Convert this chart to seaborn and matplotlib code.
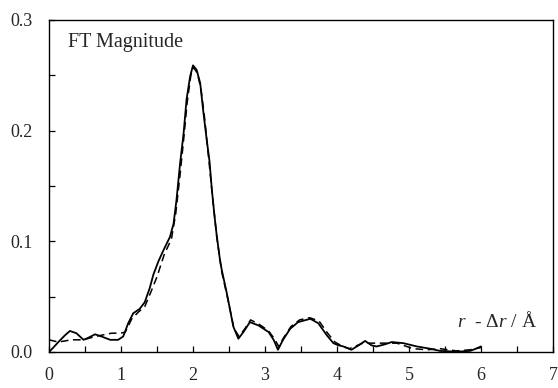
import numpy as np
import pandas as pd
import matplotlib
matplotlib.use("Agg")
import matplotlib.pyplot as plt
import seaborn as sns

# Experimental (solid)
r_exp = [0.00, 0.06, 0.13, 0.22, 0.29, 0.38, 0.48, 0.55, 0.64, 0.73, 0.85, 0.96, 1.03,
         1.10, 1.17, 1.26, 1.33, 1.40, 1.45, 1.52, 1.59, 1.68, 1.73, 1.77, 1.82, 1.87,
         1.91, 1.96, 2.00, 2.05, 2.10, 2.14, 2.19, 2.23, 2.26, 2.30, 2.33, 2.375, 2.40,
         2.47, 2.56, 2.63, 2.70, 2.79, 2.91, 3.05, 3.12, 3.18, 3.25, 3.35, 3.46, 3.63,
         3.74, 3.86, 3.95, 4.02, 4.09, 4.20, 4.30, 4.39, 4.48, 4.55, 4.67, 4.76, 4.92,
         5.11, 5.29, 5.43, 5.66, 5.85, 5.93, 6.00]
m_exp = [0.000, 0.004, 0.009, 0.015, 0.019, 0.017, 0.011, 0.013, 0.016, 0.014, 0.011, 0.011, 0.014,
         0.026, 0.035, 0.039, 0.045, 0.058, 0.070, 0.082, 0.092, 0.104, 0.116, 0.137, 0.170, 0.198,
         0.228, 0.249, 0.259, 0.255, 0.243, 0.219, 0.192, 0.172, 0.148, 0.122, 0.105, 0.083, 0.074,
         0.053, 0.023, 0.012, 0.018, 0.027, 0.024, 0.018, 0.011, 0.002, 0.011, 0.021, 0.027, 0.030,
         0.026, 0.015, 0.008, 0.006, 0.005, 0.002, 0.006, 0.010, 0.006, 0.005, 0.007, 0.009, 0.008,
         0.005, 0.003, 0.001, 0.0003, 0.001, 0.003, 0.005]

# Fit (dashed)
r_fit = [0.00, 0.13, 0.31, 0.48, 0.64, 0.87, 0.99, 1.06, 1.15, 1.24, 1.33, 1.42, 1.50, 1.60,
         1.70, 1.76, 1.82, 1.87, 1.92, 1.97, 2.01, 2.06, 2.11, 2.16, 2.21, 2.27, 2.33, 2.40,
         2.48, 2.57, 2.64, 2.72, 2.80, 2.92, 3.05, 3.13, 3.19, 3.26, 3.36, 3.48, 3.62, 3.75,
         3.87, 3.97, 4.08, 4.17, 4.36, 4.60, 4.83, 5.06, 5.25, 5.43, 5.66, 5.85, 6.00]
m_fit = [0.011, 0.009, 0.011, 0.011, 0.014, 0.017, 0.017, 0.018, 0.030, 0.036, 0.041, 0.055, 0.068, 0.088,
         0.102, 0.125, 0.160, 0.192, 0.226, 0.250, 0.257, 0.252, 0.238, 0.212, 0.180, 0.141, 0.104, 0.072,
         0.049, 0.021, 0.014, 0.021, 0.029, 0.025, 0.019, 0.012, 0.005, 0.013, 0.023, 0.029, 0.031, 0.028,
         0.017, 0.009, 0.005, 0.003, 0.008, 0.008, 0.008, 0.003, 0.002, 0.003, 0.001, 0.002, 0.004]

df_exp = pd.DataFrame({"r": r_exp, "m": m_exp})
df_fit = pd.DataFrame({"r": r_fit, "m": m_fit})

sns.set_style("white")
plt.rcParams['font.family'] = ['Liberation Serif', 'DejaVu Serif']
plt.rcParams['mathtext.fontset'] = 'custom'
plt.rcParams['mathtext.rm'] = 'Liberation Serif'
plt.rcParams['mathtext.it'] = 'Liberation Serif:italic'

fig = plt.figure(figsize=(5.58, 3.88), dpi=100)
ax = fig.add_axes([49/558, 36/388, 504/558, 332/388])

sns.lineplot(data=df_exp, x="r", y="m", ax=ax, color="black", lw=1.3, sort=False)
sns.lineplot(data=df_fit, x="r", y="m", ax=ax, color="black", lw=1.1, linestyle=(0, (5, 3)), sort=False)

ax.set_xlim(0, 7)
ax.set_ylim(0, 0.3)
ax.set_xticks(np.arange(0, 8, 1))
ax.set_xticks(np.arange(0.5, 7, 1), minor=True)
ax.set_yticks([0.0, 0.1, 0.2, 0.3])
ax.set_yticks([0.05, 0.15, 0.25], minor=True)
ax.set_xticklabels([str(i) for i in range(8)])
ax.set_yticklabels(["0.0", "0.1", "0.2", "0.3"])
ax.tick_params(axis="both", which="both", direction="in", length=4, width=0.9, color="black",
               labelsize=13, left=True, bottom=True)
ax.tick_params(axis="x", pad=11)
ax.tick_params(axis="y", pad=12)
for s in ax.spines.values():
    s.set_color("black")
    s.set_linewidth(1.0)
ax.set_xlabel("")
ax.set_ylabel("")

ax.text(0.038, 0.919, "FT Magnitude", transform=ax.transAxes, fontsize=14.5, va="baseline", ha="left")
ax.text(0.968, 0.075, r"$r$  - $\Delta r$ / Å", transform=ax.transAxes, fontsize=14, va="baseline", ha="right")

fig.savefig("out.png", dpi=100)
